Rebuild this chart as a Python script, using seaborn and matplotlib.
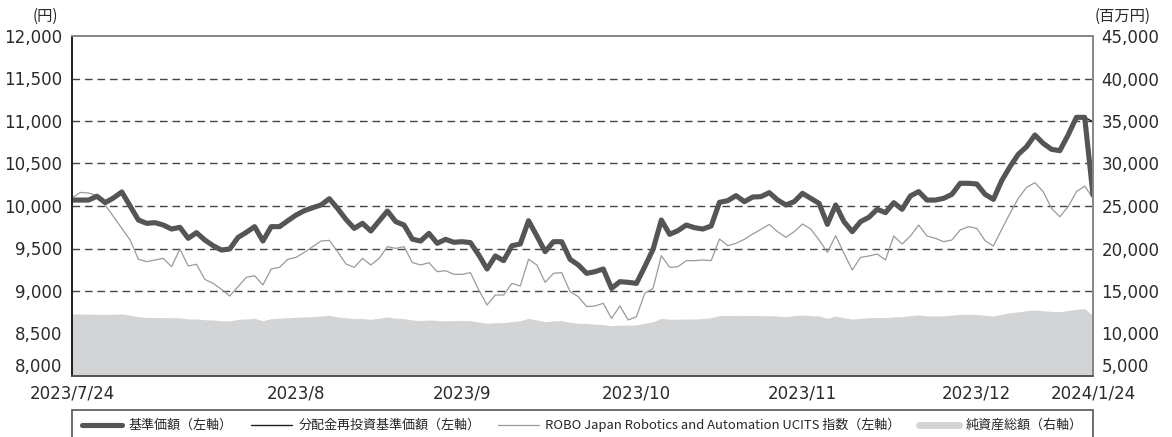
import numpy as np
import pandas as pd
import matplotlib
matplotlib.use("Agg")
import matplotlib.pyplot as plt
from matplotlib.lines import Line2D
from matplotlib.patches import Rectangle
import seaborn as sns

# 基準価額 (left axis, yen) - one value per business day, 2023/7/24 .. 2024/1/24
nav = [
    10070, 10070, 10070, 10115, 10040, 10095, 10165, 10000, 9835, 9796,
    9804, 9776, 9729, 9749, 9620, 9686, 9600, 9533, 9482, 9494,
    9630, 9690, 9757, 9588, 9757, 9757, 9827, 9894, 9945, 9980,
    10012, 10086, 9970, 9843, 9737, 9796, 9706, 9824, 9941, 9816,
    9776, 9610, 9588, 9678, 9561, 9608, 9573, 9580, 9569, 9424,
    9259, 9412, 9357, 9533, 9553, 9827, 9647, 9463, 9580, 9580,
    9373, 9306, 9208, 9227, 9259, 9031, 9110, 9102, 9090, 9286,
    9490, 9835, 9667, 9710, 9776, 9745, 9729, 9765, 10043, 10063,
    10122, 10051, 10106, 10110, 10157, 10071, 10012, 10051, 10149, 10090,
    10031, 9784, 10012, 9816, 9698, 9816, 9867, 9961, 9922, 10039,
    9961, 10118, 10169, 10070, 10070, 10090, 10137, 10267, 10267, 10259,
    10137, 10078, 10298, 10463, 10608, 10698, 10835, 10737, 10667, 10651,
    10835, 11043, 11043, 10129,
]

# 分配金再投資基準価額 (left axis) - same as nav until the last day
nav_reinvested = nav[:-1] + [10990]

# ROBO Japan Robotics and Automation UCITS 指数 (left axis)
robo_index = [
    10095, 10160, 10152, 10125, 10012, 9875, 9737, 9600, 9373, 9345,
    9365, 9384, 9286, 9494, 9294, 9314, 9137, 9090, 9020, 8941,
    9051, 9161, 9180, 9071, 9259, 9278, 9373, 9396, 9455, 9522,
    9588, 9596, 9463, 9318, 9278, 9384, 9306, 9384, 9522, 9502,
    9522, 9335, 9306, 9333, 9227, 9239, 9196, 9196, 9216, 9012,
    8835, 8953, 8953, 9090, 9059, 9373, 9306, 9102, 9208, 9216,
    8992, 8933, 8816, 8824, 8855, 8678, 8824, 8659, 8698, 8973,
    9031, 9416, 9278, 9286, 9357, 9357, 9365, 9357, 9612, 9533,
    9561, 9608, 9670, 9725, 9784, 9698, 9631, 9698, 9788, 9729,
    9600, 9455, 9651, 9443, 9247, 9396, 9412, 9435, 9365, 9647,
    9553, 9647, 9776, 9647, 9620, 9580, 9600, 9718, 9757, 9737,
    9592, 9529, 9725, 9914, 10090, 10220, 10274, 10169, 9973, 9874,
    9992, 10169, 10235, 10090,
]

# 純資産総額 (right axis, million yen)
net_assets = [
    12290, 12290, 12280, 12260, 12240, 12270, 12300, 12150, 11980, 11900,
    11870, 11860, 11860, 11850, 11700, 11720, 11620, 11590, 11500, 11480,
    11670, 11710, 11780, 11510, 11750, 11800, 11850, 11900, 11950, 12000,
    12060, 12140, 11950, 11860, 11750, 11760, 11670, 11800, 11940, 11800,
    11750, 11590, 11520, 11590, 11540, 11480, 11520, 11540, 11510, 11350,
    11200, 11280, 11280, 11400, 11510, 11780, 11600, 11390, 11480, 11510,
    11320, 11200, 11180, 11100, 11050, 10920, 10980, 10990, 11000, 11200,
    11390, 11780, 11670, 11690, 11700, 11710, 11760, 11860, 12100, 12120,
    12130, 12120, 12130, 12100, 12100, 12050, 11980, 12100, 12170, 12100,
    12060, 11790, 12050, 11850, 11700, 11780, 11860, 11900, 11880, 11960,
    11980, 12100, 12180, 12080, 12060, 12080, 12150, 12250, 12250, 12240,
    12150, 12060, 12250, 12450, 12550, 12680, 12760, 12680, 12600, 12570,
    12700, 12840, 12920, 12060,
]

# x-axis labels and the business-day index they sit on
date_labels = ["2023/7/24", "2023/8", "2023/9", "2023/10", "2023/11", "2023/12", "2024/1/24"]
date_pos = [0, 27, 47, 68, 88, 109, 123]

left_ticks = [8000, 8500, 9000, 9500, 10000, 10500, 11000, 11500, 12000]
right_ticks = [5000, 10000, 15000, 20000, 25000, 30000, 35000, 40000, 45000]

legend_labels = [
    "基準価額（左軸）",
    "分配金再投資基準価額（左軸）",
    "ROBO Japan Robotics and Automation UCITS 指数（左軸）",
    "純資産総額（右軸）",
]

df = pd.DataFrame({
    "day": np.arange(len(nav)),
    "nav": nav,
    "reinvested": nav_reinvested,
    "robo": robo_index,
    "assets": net_assets,
})

sns.set_theme(style="white")
plt.rcParams["font.family"] = ["DejaVu Sans", "Noto Sans CJK JP"]
cjk = ["Noto Sans CJK JP", "DejaVu Sans"]
txt_col = "#2a2a2a"

W, H = 1172, 437
fig = plt.figure(figsize=(W / 100, H / 100), dpi=100)
ax = fig.add_axes([72 / W, 1 - 376 / H, 1021 / W, 340 / H])
ax2 = ax.twinx()

# bottom layer: net assets area + dashed grid (right axis ticks line up with left ones)
ax.set_zorder(2)
ax2.set_zorder(1)
ax.patch.set_visible(False)

area_col = "#d3d4d6"
ax2.fill_between(df["day"], right_ticks[0], df["assets"], color=area_col, lw=0, zorder=2)
for v in right_ticks[1:-1]:
    ax2.axhline(v, color="#444444", lw=1.0, dashes=(5.5, 3.5), zorder=1)
ax2.set_ylim(right_ticks[0], right_ticks[-1])
ax2.set_yticks(right_ticks)
ax2.set_yticklabels([f"{v:,}" for v in right_ticks])

# lines on the left axis
sns.lineplot(data=df, x="day", y="robo", ax=ax, color="#9a9a9a", lw=0.9)
sns.lineplot(data=df, x="day", y="reinvested", ax=ax, color="#1e1e1e", lw=1.0)
sns.lineplot(data=df, x="day", y="nav", ax=ax, color="#555555", lw=3.7)

ax.set_xlim(0, len(nav) - 1)
ax.set_ylim(left_ticks[0], left_ticks[-1])
ax.set_yticks(left_ticks)
ax.set_yticklabels([f"{v:,}" for v in left_ticks])
ax.set_xticks(date_pos)
ax.set_xticklabels(date_labels)
ax.set_xlabel("")
ax.set_ylabel("")
ax2.set_ylabel("")

ax.tick_params(axis="y", length=0, pad=7, labelsize=12, colors=txt_col)
ax2.tick_params(axis="y", length=0, pad=6, labelsize=12, colors=txt_col)
ax.tick_params(axis="x", direction="in", length=7, width=1.2, color="#333333",
               pad=6, labelsize=12, labelcolor=txt_col)

# lowest y labels sit a little above the bottom spine, clear of the date labels
ax.get_yticklabels()[0].set_va("bottom")
ax2.get_yticklabels()[0].set_va("bottom")

for a in (ax, ax2):
    a.spines["left"].set_color("#222222")
    a.spines["left"].set_linewidth(1.3)
    a.spines["bottom"].set_color("#555555")
    a.spines["bottom"].set_linewidth(1.3)
    a.spines["top"].set_color("#888888")
    a.spines["top"].set_linewidth(1.3)
    a.spines["right"].set_color("#888888")
    a.spines["right"].set_linewidth(1.3)

# unit labels
fig.text(33 / W, 1 - 16 / H, "(円)", family=cjk, fontsize=11, ha="left", va="center", color=txt_col)
fig.text(1095 / W, 1 - 16 / H, "(百万円)", family=cjk, fontsize=11, ha="left", va="center", color=txt_col)

# legend
handles = [
    Line2D([], [], color="#555555", lw=3.7),
    Line2D([], [], color="#1e1e1e", lw=1.0),
    Line2D([], [], color="#9a9a9a", lw=0.9),
    Line2D([], [], color=area_col, lw=5),
]
fig.legend(handles, legend_labels, loc="center", bbox_to_anchor=(0.497, 1 - 425 / H),
           ncol=4, frameon=False, prop={"family": cjk, "size": 9.4},
           handlelength=3.1, handletextpad=0.5, columnspacing=1.4, borderpad=0)
pos = ax.get_position()
fig.add_artist(Rectangle((pos.x0, -0.05), pos.width, (1 - 410 / H) + 0.05,
                         transform=fig.transFigure, fill=False, edgecolor="#555555", lw=1.2))

fig.savefig("out.png", dpi=100)
